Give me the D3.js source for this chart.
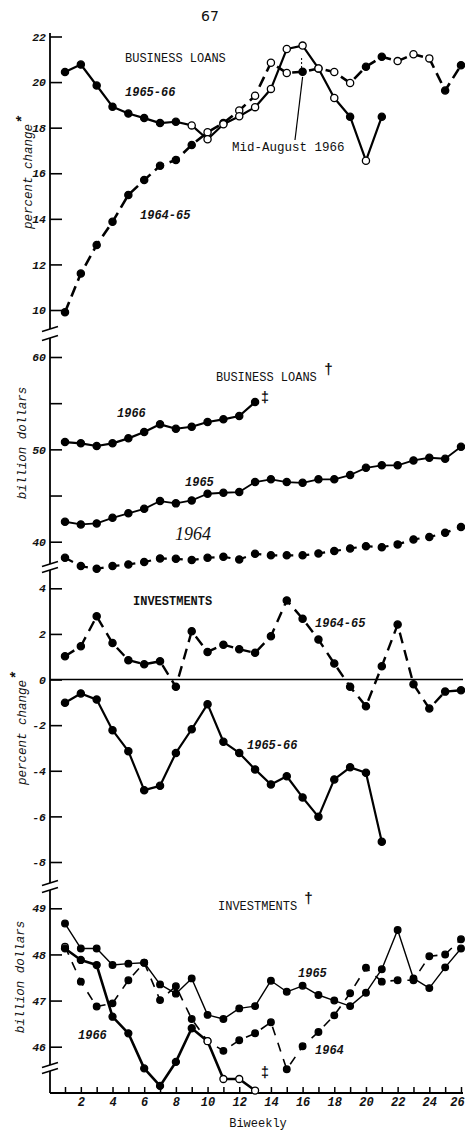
<!DOCTYPE html>
<html>
<head>
<meta charset="utf-8">
<script src="https://cdn.jsdelivr.net/npm/d3@7"></script>
<style>
  body { margin: 0; background: #fff; }
  svg { display: block; }
  text { fill: #111; }
</style>
</head>
<body>
<svg id="chart" width="465" height="1132"></svg>
<script>
// biweekly periods (x categories)
var biweek = [1, 2, 3, 4, 5, 6, 7, 8, 9, 10, 11, 12, 13, 14, 15, 16, 17, 18, 19, 20, 21, 22, 23, 24, 25, 26];

// panel 1: business loans, percent change
var loanPct6566 = [20.44, 20.77, 19.85, 18.92, 18.62, 18.42, 18.2, 18.26, 18.1, 17.49, 18.15, 18.5, 18.9, 19.7, 21.45, 21.6, 20.6, 19.3, 18.48, 16.55, 18.48];
var loanPct6465 = [9.9, 11.6, 12.85, 13.87, 15.05, 15.7, 16.33, 16.58, 17.24, 17.8, 18.2, 18.75, 19.4, 20.85, 20.4, 20.45, 20.6, 20.44, 19.96, 20.67, 21.11, 20.92, 21.22, 21.04, 19.63, 20.74];
var loanPctTicks = [10, 12, 14, 16, 18, 20, 22];

// panel 2: business loans, billion dollars
var loans1966 = [50.79, 50.65, 50.36, 50.65, 51.19, 51.87, 52.71, 52.23, 52.45, 52.96, 53.25, 53.61, 55.12];
var loans1965 = [42.16, 41.87, 41.98, 42.59, 43.07, 43.56, 44.4, 44.15, 44.47, 45.19, 45.3, 45.37, 46.46, 46.75, 46.46, 46.38, 46.75, 46.75, 47.22, 48.0, 48.27, 48.27, 48.8, 49.09, 48.98, 50.28];
var loans1964 = [38.26, 37.36, 37.06, 37.36, 37.54, 37.79, 38.19, 38.15, 38.01, 38.26, 38.36, 38.08, 38.69, 38.52, 38.52, 38.52, 38.73, 38.98, 39.27, 39.52, 39.41, 39.71, 40.25, 40.5, 40.96, 41.58];
var loansTicks = [40, 45, 50, 55, 60];
var loansTickLabels = [40, 50, 60];

// panel 3: investments, percent change
var invPct6465 = [1.02, 1.46, 2.77, 1.6, 0.85, 0.67, 0.8, -0.32, 2.12, 1.21, 1.53, 1.33, 1.17, 1.9, 3.47, 2.67, 1.75, 0.7, -0.32, -1.17, 0.58, 2.41, -0.21, -1.27, -0.53, -0.47];
var invPct6566 = [-1.02, -0.61, -0.88, -2.22, -3.14, -4.85, -4.66, -3.22, -2.18, -1.08, -2.73, -3.22, -3.94, -4.6, -4.24, -5.17, -6.02, -4.38, -3.85, -4.09, -7.11];
var invPctTicks = [-8, -6, -4, -2, 0, 2, 4];

// panel 4: investments, billion dollars
var inv1965 = [48.67, 48.13, 48.13, 47.77, 47.8, 47.82, 47.35, 47.15, 47.48, 46.69, 46.6, 46.83, 46.88, 47.43, 47.19, 47.32, 47.12, 47.0, 46.88, 47.17, 47.68, 48.53, 47.48, 47.27, 47.72, 48.13];
var inv1966 = [48.13, 47.88, 47.77, 46.65, 46.29, 45.53, 45.15, 45.67, 46.4, 46.12, 45.3, 45.3, 45.05];
var inv1964 = [48.17, 47.41, 46.87, 46.94, 47.44, 47.82, 47.01, 47.31, 46.6, 46.12, 45.91, 46.14, 46.29, 46.53, 45.51, 46.01, 46.32, 46.68, 47.16, 47.71, 47.41, 47.44, 47.44, 47.96, 48.0, 48.33];
var invTicks = [46, 47, 48, 49];

var svg = d3.select("#chart");
var MONO = "Liberation Mono, DejaVu Sans Mono, monospace";
var AXIS_X = 50, X_END = 463, X_AXIS_Y = 1093;

var x = d3.scaleLinear().domain([1, 26]).range([65, 461]);

var panels = [
    { y: d3.scaleLinear().domain([10, 22]).range([310, 36.5]), ticks: loanPctTicks, labels: loanPctTicks, top: 33, bottom: 329 },
    { y: d3.scaleLinear().domain([40, 60]).range([541.7, 357]), ticks: loansTicks, labels: loansTickLabels, top: 338, bottom: 564 },
    { y: d3.scaleLinear().domain([-8, 4]).range([862, 588.3]), ticks: invPctTicks, labels: invPctTicks, top: 570, bottom: 883 },
    { y: d3.scaleLinear().domain([46, 49]).range([1046.7, 908.3]), ticks: invTicks, labels: invTicks, top: 890, bottom: X_AXIS_Y }
];

function breakMark(yv) {
    svg.append("line")
        .attr("x1", AXIS_X - 8).attr("y1", yv + 2.5)
        .attr("x2", AXIS_X + 8).attr("y2", yv - 2.5)
        .attr("stroke", "#000").attr("stroke-width", 1.6);
}

panels.forEach(function (p) {
    var ax = d3.axisLeft(p.y)
        .tickValues(p.ticks)
        .tickSizeInner(-12).tickSizeOuter(0).tickPadding(4)
        .tickFormat(function (d) { return p.labels.indexOf(d) >= 0 ? d : ""; });
    var g = svg.append("g").attr("transform", "translate(" + AXIS_X + ",0)").call(ax);
    g.select(".domain").remove();
    g.selectAll(".tick line").attr("stroke", "#000").attr("stroke-width", 1.6);
    g.selectAll(".tick text")
        .attr("font-family", MONO).attr("font-style", "italic").attr("font-weight", "bold")
        .attr("font-size", 11.5).attr("fill", "#111");
    svg.append("line")
        .attr("x1", AXIS_X).attr("x2", AXIS_X)
        .attr("y1", p.top).attr("y2", p.bottom)
        .attr("stroke", "#000").attr("stroke-width", 1.8);
    if (p.top > 40) { breakMark(p.top); }
    if (p.bottom < X_AXIS_Y) { breakMark(p.bottom); }
});
// extra break inside the last panel
svg.append("rect").attr("x", AXIS_X - 3).attr("y", 1065).attr("width", 6).attr("height", 6).attr("fill", "#fff");
breakMark(1065);
breakMark(1071);

// zero line in investments percent panel
svg.append("line")
    .attr("x1", AXIS_X).attr("x2", X_END)
    .attr("y1", panels[2].y(0)).attr("y2", panels[2].y(0))
    .attr("stroke", "#000").attr("stroke-width", 1.4);

// x axis
var xg = svg.append("g").attr("transform", "translate(0," + X_AXIS_Y + ")")
    .call(d3.axisBottom(x).tickValues(biweek).tickSizeInner(-6).tickSizeOuter(0).tickPadding(4)
        .tickFormat(function (d) { return d % 2 === 0 ? d : ""; }));
xg.select(".domain").remove();
xg.selectAll(".tick line").attr("stroke", "#000").attr("stroke-width", 1.5);
xg.selectAll(".tick text")
    .attr("font-family", MONO).attr("font-style", "italic").attr("font-weight", "bold")
    .attr("font-size", 12).attr("fill", "#111")
    .attr("dx", function (d) { return d === 26 ? -4 : 0; });
svg.append("line")
    .attr("x1", AXIS_X).attr("x2", X_END)
    .attr("y1", X_AXIS_Y).attr("y2", X_AXIS_Y)
    .attr("stroke", "#000").attr("stroke-width", 1.8);

function drawSeries(p, values, opt) {
    var line = d3.line()
        .x(function (d, i) { return x(biweek[i]); })
        .y(function (d) { return p.y(d); });
    svg.append("path")
        .datum(values)
        .attr("d", line)
        .attr("fill", "none")
        .attr("stroke", "#000")
        .attr("stroke-width", opt.width)
        .attr("stroke-dasharray", opt.dash || null)
        .attr("stroke-linejoin", "round");
    var open = opt.open || [];
    svg.append("g").selectAll("circle")
        .data(values)
        .enter().append("circle")
        .attr("cx", function (d, i) { return x(biweek[i]); })
        .attr("cy", function (d) { return p.y(d); })
        .attr("r", opt.r || 3.6)
        .attr("fill", function (d, i) { return open.indexOf(biweek[i]) >= 0 ? "#fff" : "#000"; })
        .attr("stroke", "#000")
        .attr("stroke-width", 1.3);
}

drawSeries(panels[0], loanPct6465, { width: 2.6, dash: "11,6", open: [10, 12, 13, 14, 15, 17, 18, 19, 22, 23, 24] });
drawSeries(panels[0], loanPct6566, { width: 2.2, open: [9, 10, 11, 12, 13, 14, 15, 16, 17, 18, 20] });

drawSeries(panels[1], loans1966, { width: 2.2 });
drawSeries(panels[1], loans1965, { width: 1.8 });
drawSeries(panels[1], loans1964, { width: 2.2, dash: "9,7" });

drawSeries(panels[2], invPct6465, { width: 2.4, dash: "11,7" });
drawSeries(panels[2], invPct6566, { width: 2.2 });

drawSeries(panels[3], inv1965, { width: 1.4, r: 3.3 });
drawSeries(panels[3], inv1964, { width: 1.6, dash: "9,8", r: 3.3, open: [1] });
drawSeries(panels[3], inv1966, { width: 2.6, r: 3.5, open: [10, 11, 12, 13] });

// text
function label(txt, tx, ty, o) {
    o = o || {};
    return svg.append("text")
        .attr("x", tx).attr("y", ty)
        .attr("font-family", o.family || MONO)
        .attr("font-size", o.size || 12)
        .attr("font-style", o.italic ? "italic" : null)
        .attr("font-weight", o.bold ? "bold" : null)
        .attr("text-anchor", o.anchor || "start")
        .text(txt);
}
function yTitle(txt, tx, cy) {
    var t = svg.append("text")
        .attr("transform", "translate(" + tx + "," + cy + ") rotate(-90)")
        .attr("text-anchor", "middle")
        .attr("font-family", MONO).attr("font-size", 12.5).attr("font-style", "italic");
    t.append("tspan").text(txt.replace("*", ""));
    if (txt.indexOf("*") >= 0) {
        t.append("tspan").attr("dy", -5).attr("font-size", 15).attr("font-weight", "bold").text("*");
    }
}

label("67", 210, 21, { family: "DejaVu Sans, sans-serif", size: 14, anchor: "middle" });

label("BUSINESS LOANS", 125, 62);
label("1965-66", 125, 96, { italic: true, bold: true });
label("1964-65", 140, 219, { italic: true, bold: true });
label("Mid-August 1966", 232, 151, { size: 12.5 });
svg.append("line")
    .attr("x1", 295).attr("y1", 140)
    .attr("x2", x(16)).attr("y2", panels[0].y(loanPct6465[15]) + 5)
    .attr("stroke", "#000").attr("stroke-width", 1.2);
svg.append("line")
    .attr("x1", x(16) - 1).attr("y1", 68).attr("x2", x(16) - 1).attr("y2", 56)
    .attr("stroke", "#000").attr("stroke-width", 1).attr("stroke-dasharray", "2,2");
yTitle("percent change*", 32, 172);

label("BUSINESS LOANS", 216, 381);
label("\u2020", 324, 374, { size: 15, bold: true });
label("1966", 117, 417, { italic: true, bold: true });
label("1965", 185, 486, { italic: true, bold: true });
label("1964", 175, 540, { family: "Liberation Serif, serif", size: 18, italic: true });
label("\u2021", 265, 402, { size: 14, bold: true, anchor: "middle" });
yTitle("billion dollars", 26, 443);

label("INVESTMENTS", 133, 605, { bold: true });
label("1964-65", 315, 627, { italic: true, bold: true });
label("1965-66", 247, 749, { italic: true, bold: true });
yTitle("percent change*", 26, 728);

label("INVESTMENTS", 218, 910);
label("\u2020", 304, 903, { size: 15, bold: true });
label("1965", 298, 977, { italic: true, bold: true });
label("1964", 315, 1054, { italic: true, bold: true });
label("1966", 78, 1039, { italic: true, bold: true });
label("\u2021", 265, 1077, { size: 14, bold: true, anchor: "middle" });
yTitle("billion dollars", 24, 977);

label("Biweekly", 258, 1127, { anchor: "middle" });
</script>
</body>
</html>
